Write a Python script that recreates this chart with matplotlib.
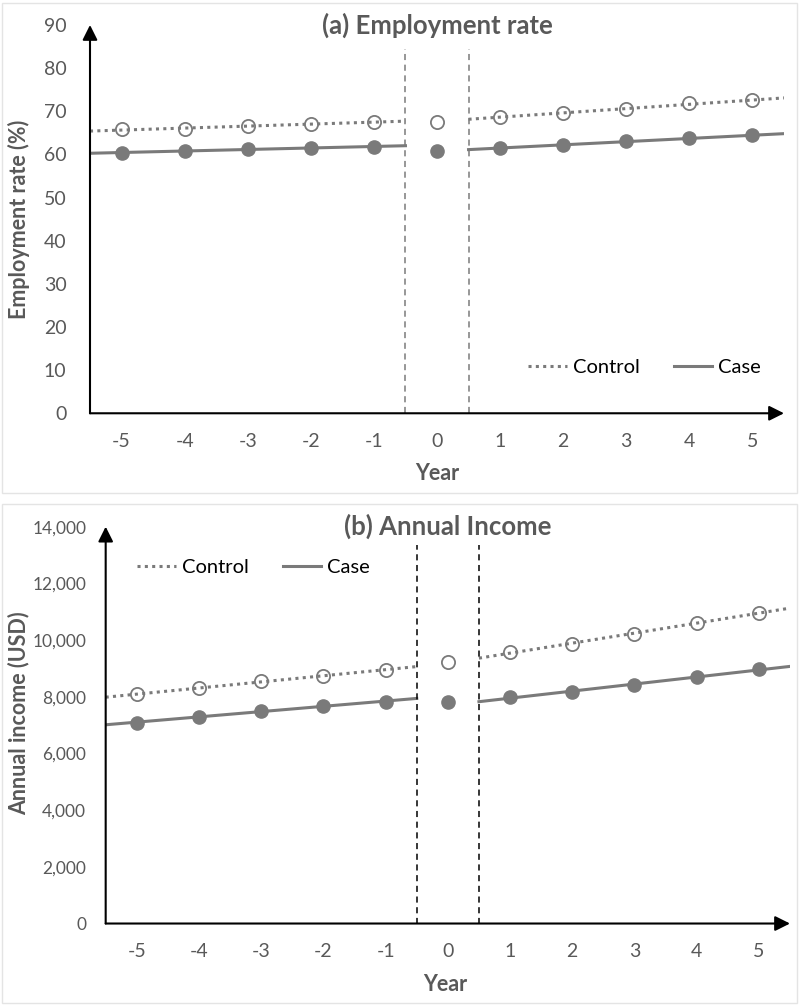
import numpy as np
import matplotlib
matplotlib.use('Agg')
import matplotlib.pyplot as plt
from matplotlib.lines import Line2D
from matplotlib.patches import Rectangle
from matplotlib.ticker import FuncFormatter

plt.rcParams['font.family'] = ['Lato', 'DejaVu Sans']
plt.rcParams['axes.unicode_minus'] = False

# data
years = [-5, -4, -3, -2, -1, 0, 1, 2, 3, 4, 5]
emp_control = [65.8, 65.9, 66.5, 67.1, 67.5, 67.5, 68.7, 69.5, 70.6, 71.8, 72.5]
emp_case = [60.4, 60.8, 61.2, 61.5, 61.8, 60.9, 61.5, 62.1, 63.1, 63.7, 64.4]
inc_control = [8090, 8300, 8540, 8740, 8950, 9220, 9570, 9870, 10210, 10600, 10970]
inc_case = [7090, 7300, 7480, 7680, 7830, 7830, 7980, 8180, 8420, 8690, 8970]

GRAY = '#7a7a7a'
TXT = '#595959'


def trend(ax, x, y, lo, hi, **kw):
    k, b = np.polyfit(x, y, 1)
    xs = np.array([lo, hi])
    ax.plot(xs, k * xs + b, color=GRAY, **kw)


def draw_panel(ax, ctrl, case, ymax, vcol, vtop):
    yrs = np.array(years)
    ctrl = np.array(ctrl)
    case = np.array(case)
    pre = yrs < 0
    post = yrs > 0
    dot = dict(lw=2.2, linestyle=(0, (1, 1.4)), dash_capstyle='butt')
    trend(ax, yrs[pre], ctrl[pre], -5.5, -0.5, **dot)
    trend(ax, yrs[post], ctrl[post], 0.5, 5.5, **dot)
    trend(ax, yrs[pre], case[pre], -5.5, -0.5, lw=2.2)
    trend(ax, yrs[post], case[post], 0.5, 5.5, lw=2.2)
    # open markers let the trend line show through, as in the original
    ax.plot(yrs, ctrl, 'o', ms=9.5, mfc='none', mec=GRAY, mew=1.3, zorder=3)
    ax.plot(yrs, case, 'o', ms=9.5, color=GRAY, zorder=3)
    ax.vlines([-0.5, 0.5], 0, vtop, colors=vcol, lw=1.1, linestyles=(0, (4, 3)))

    ax.set_xlim(-5.5, 5.5)
    ax.set_ylim(0, ymax)
    ax.set_xticks(years)
    for s in ax.spines.values():
        s.set_visible(False)
    ax.tick_params(length=0, colors=TXT, labelsize=14)
    ax.tick_params(axis='x', pad=14)
    arrow = dict(arrowstyle='-|>,head_length=0.5,head_width=0.25', color='black',
                 lw=1.5, mutation_scale=18, shrinkA=0, shrinkB=0)
    ax.annotate('', xy=(0, 1.0), xytext=(0, 0), xycoords='axes fraction', arrowprops=arrow)
    ax.annotate('', xy=(1.0, 0), xytext=(0, 0), xycoords='axes fraction', arrowprops=arrow)


fig = plt.figure(figsize=(8, 10.07), dpi=100)

# panel frames
fig.add_artist(Rectangle((0.002, 0.51), 0.994, 0.487, transform=fig.transFigure,
                         fill=False, ec='#e4e4e4', lw=1))
fig.add_artist(Rectangle((0.002, 0.004), 0.994, 0.4955, transform=fig.transFigure,
                         fill=False, ec='#e4e4e4', lw=1))

# (a) employment
ax1 = fig.add_axes([0.1125, 0.5896, 0.8675, 0.3856])
draw_panel(ax1, emp_control, emp_case, 90, GRAY, 84.5)
ax1.set_yticks(range(0, 91, 10))
ax1.tick_params(axis='y', pad=17)
ax1.text(0.5, 1.0, '(a) Employment rate', transform=ax1.transAxes, ha='center',
         va='center', fontsize=18.5, fontweight='bold', color=TXT)
ax1.set_ylabel('Employment rate (%)', fontsize=15.5, fontweight='bold', color=TXT)
ax1.yaxis.set_label_coords(-0.087, 0.5)
ax1.set_xlabel('Year', fontsize=15.5, fontweight='bold', color=TXT)
ax1.xaxis.set_label_coords(0.5, -0.128)

handles = [Line2D([], [], color=GRAY, lw=2.2, linestyle=(0, (1, 1.4))),
           Line2D([], [], color=GRAY, lw=2.2)]
leg_kw = dict(ncol=2, frameon=False, fontsize=14.5, handlelength=1.9,
              handletextpad=0.3, columnspacing=1.7, loc='center')
ax1.legend(handles, ['Control', 'Case'], bbox_to_anchor=(0.799, 0.119), **leg_kw)

# (b) income
ax2 = fig.add_axes([0.1321, 0.0829, 0.8554, 0.3941])
draw_panel(ax2, inc_control, inc_case, 14000, 'black', 13360)
ax2.set_yticks(range(0, 14001, 2000))
ax2.yaxis.set_major_formatter(FuncFormatter(lambda v, p: f'{int(v):,}'))
ax2.tick_params(axis='y', pad=14, labelsize=12.5)
ax2.text(0.5, 1.0, '(b) Annual Income', transform=ax2.transAxes, ha='center',
         va='center', fontsize=18.5, fontweight='bold', color=TXT)
ax2.set_ylabel('Annual income (USD)', fontsize=15.5, fontweight='bold', color=TXT)
ax2.yaxis.set_label_coords(-0.111, 0.53)
ax2.set_xlabel('Year', fontsize=15.5, fontweight='bold', color=TXT)
ax2.xaxis.set_label_coords(0.496, -0.127)
ax2.legend(handles, ['Control', 'Case'], bbox_to_anchor=(0.216, 0.898), **leg_kw)

fig.savefig('out.png', dpi=100, facecolor='white')
